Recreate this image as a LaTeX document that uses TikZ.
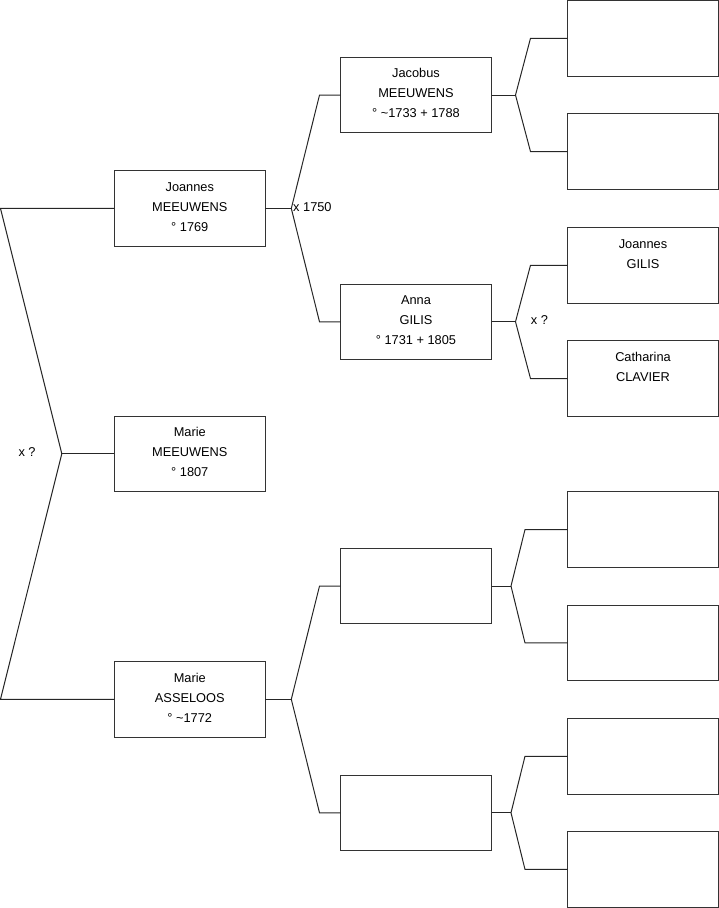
\documentclass[tikz,border=0pt]{standalone}
\usepackage{fontspec}
\setmainfont{Liberation Sans}
\usetikzlibrary{calc}
\tikzset{
  personbox/.style={draw=black!80, line width=1pt, rectangle, anchor=north west,
    inner sep=0pt, outer sep=0pt, minimum width=151pt, minimum height=75.5pt,
    font=\fontsize{12.8pt}{20pt}\selectfont},
  conn/.style={draw=black!85, line width=1pt},
  marr/.style={anchor=west, inner sep=0pt, font=\fontsize{12.8pt}{20pt}\selectfont}
}
\newcommand{\boxtext}[1]{\parbox[c][75.5pt][t]{151pt}{\centering\vspace*{10.6pt}\rule{0pt}{10pt}#1\par}}
\begin{document}
\begin{tikzpicture}[x=1pt,y=-1pt]
\useasboundingbox (0,0) rectangle (719,908);
% column 1
\node[personbox] (JM) at (114.3,170.7) {\boxtext{Joannes\\MEEUWENS\\° 1769}};
\node[personbox] (MM) at (114.3,416) {\boxtext{Marie\\MEEUWENS\\° 1807}};
\node[personbox] (MA) at (114.3,661.5) {\boxtext{Marie\\ASSELOOS\\° \char`\~1772}};
% column 2
\node[personbox] (JAC) at (340.5,57.3) {\boxtext{Jacobus\\MEEUWENS\\° \char`\~1733 + 1788}};
\node[personbox] (ANNA) at (340.5,284) {\boxtext{Anna\\GILIS\\° 1731 + 1805}};
\node[personbox] (E1) at (340.5,548.3) {\boxtext{}};
\node[personbox] (E2) at (340.5,775) {\boxtext{}};
% column 3
\node[personbox] (R1) at (567.5,0.5) {\boxtext{}};
\node[personbox] (R2) at (567.5,113.8) {\boxtext{}};
\node[personbox] (R3) at (567.5,227.5) {\boxtext{Joannes\\GILIS}};
\node[personbox] (R4) at (567.5,340.8) {\boxtext{Catharina\\CLAVIER}};
\node[personbox] (R5) at (567.5,491.8) {\boxtext{}};
\node[personbox] (R6) at (567.5,605.2) {\boxtext{}};
\node[personbox] (R7) at (567.5,718.5) {\boxtext{}};
\node[personbox] (R8) at (567.5,831.7) {\boxtext{}};
% branch coordinates
\path (JM.west) ++(-113.8,0) coordinate (TL);
\path (MA.west) ++(-113.8,0) coordinate (BL);
\path (MM.west) ++(-52.5,0) coordinate (LB);
\path (JM.east) ++(26,0) coordinate (J1);
\path (MA.east) ++(26,0) coordinate (A1);
\path (JAC.east) ++(24,0) coordinate (JB);
\path (ANNA.east) ++(24,0) coordinate (AB);
\path (E1.east) ++(19.5,0) coordinate (EB1);
\path (E2.east) ++(19.5,0) coordinate (EB2);
% connectors
\draw[conn] (JM.west) -- (TL) -- (LB) -- (BL) -- (MA.west);
\draw[conn] (LB) -- (MM.west);
\draw[conn] (JM.east) -- (J1);
\draw[conn] (JAC.west) -- ++(-21,0) -- (J1) -- ($(ANNA.west)+(-21,0)$) -- (ANNA.west);
\draw[conn] (MA.east) -- (A1);
\draw[conn] (E1.west) -- ++(-21,0) -- (A1) -- ($(E2.west)+(-21,0)$) -- (E2.west);
\draw[conn] (JAC.east) -- (JB);
\draw[conn] (R1.west) -- ++(-37,0) -- (JB) -- ($(R2.west)+(-37,0)$) -- (R2.west);
\draw[conn] (ANNA.east) -- (AB);
\draw[conn] (R3.west) -- ++(-37,0) -- (AB) -- ($(R4.west)+(-37,0)$) -- (R4.west);
\draw[conn] (E1.east) -- (EB1);
\draw[conn] (R5.west) -- ++(-42.5,0) -- (EB1) -- ($(R6.west)+(-42.5,0)$) -- (R6.west);
\draw[conn] (E2.east) -- (EB2);
\draw[conn] (R7.west) -- ++(-42.5,0) -- (EB2) -- ($(R8.west)+(-42.5,0)$) -- (R8.west);
% marriage labels
\node[marr] (m1) at (18.3,452) {x ?};
\node[marr] (m2) at (293,207.5) {x 1750};
\node[marr] (m3) at (530.7,320.5) {x ?};
\end{tikzpicture}
\end{document}
